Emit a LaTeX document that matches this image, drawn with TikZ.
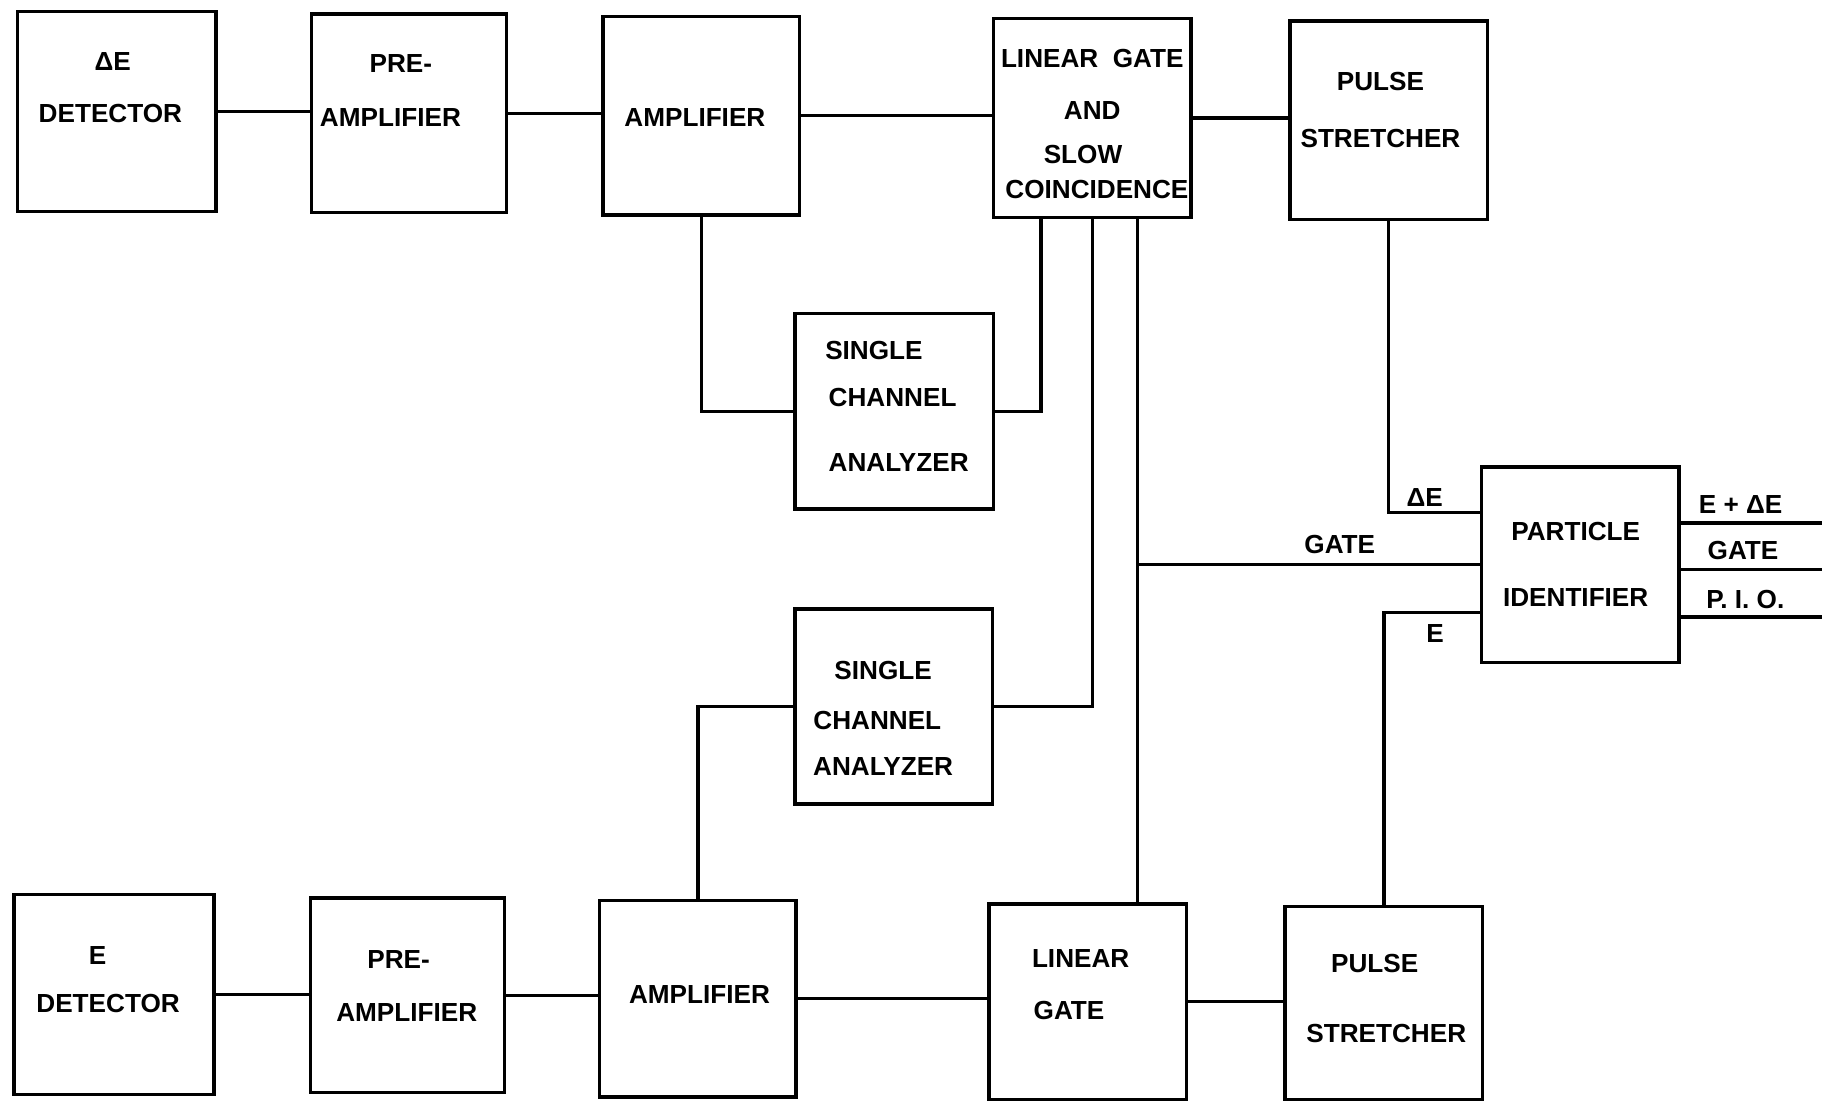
\documentclass[tikz,border=0pt]{standalone}
\usepackage{fontspec}
\setmainfont{Liberation Sans}
\usetikzlibrary{calc}
\begin{document}
\begin{tikzpicture}[x=1pt,y=-1pt,
  box/.style={draw, line width=3pt, inner sep=0pt, outer sep=0pt},
  wire/.style={line width=3pt, line cap=rect},
  lbl/.style={inner sep=0pt, font=\fontsize{22.5}{27}\selectfont\bfseries}]
\useasboundingbox[fill=white] (0,0) rectangle (1568,948);
% boxes (top row)
\node[box, minimum width=171pt, minimum height=172pt] (dE)  at (100.5,96) {};
\node[box, minimum width=168pt, minimum height=171pt] (pa1) at (352,97.5) {};
\node[box, minimum width=169pt, minimum height=171pt] (am1) at (603.5,99.5) {};
\node[box, minimum width=170pt, minimum height=171pt] (lg1) at (940,101.5) {};
\node[box, minimum width=170pt, minimum height=171pt] (ps1) at (1195,103.5) {};
% middle
\node[box, minimum width=171pt, minimum height=168pt] (sca1) at (769.5,354) {};
\node[box, minimum width=170pt, minimum height=168pt] (sca2) at (769,608) {};
\node[box, minimum width=170pt, minimum height=168pt] (pi)   at (1360,486) {};
% bottom row
\node[box, minimum width=172pt, minimum height=172pt] (dE2) at (98,856) {};
\node[box, minimum width=167pt, minimum height=167pt] (pa2) at (350.5,856.5) {};
\node[box, minimum width=169pt, minimum height=169pt] (am2) at (600.5,859.5) {};
\node[box, minimum width=170pt, minimum height=168pt] (lg2) at (936,862) {};
\node[box, minimum width=170pt, minimum height=166pt] (ps2) at (1191,863) {};

% texts
\node[lbl] (t1) at (97,53) {ΔE};
\node[lbl] (t2) at (95,98) {DETECTOR};
\node[lbl] (t3) at (345,55) {PRE-};
\node[lbl] (t4) at (336,101) {AMPLIFIER};
\node[lbl] (t5) at (598,101) {AMPLIFIER};
\node[lbl] (t6) at (940,50) {LINEAR\ \ GATE};
\node[lbl] (t7) at (940,95) {AND};
\node[lbl] (t8) at (932,133) {SLOW};
\node[lbl] (t9) at (944,163) {COINCIDENCE};
\node[lbl] (t10) at (1188,70) {PULSE};
\node[lbl] (t11) at (1188,119) {STRETCHER};
\node[lbl, anchor=west] (t12) at (710,302) {SINGLE};
\node[lbl, anchor=west] (t13) at (713,342) {CHANNEL};
\node[lbl, anchor=west] (t14) at (713,398) {ANALYZER};
\node[lbl] (t15) at (1356,457) {PARTICLE};
\node[lbl] (t16) at (1356,514) {IDENTIFIER};
\node[lbl] (t17) at (760,577) {SINGLE};
\node[lbl] (t18) at (755,620) {CHANNEL};
\node[lbl] (t19) at (760,660) {ANALYZER};
\node[lbl] (t20) at (84,822) {E};
\node[lbl] (t21) at (93,864) {DETECTOR};
\node[lbl] (t22) at (343,826) {PRE-};
\node[lbl] (t23) at (350,871) {AMPLIFIER};
\node[lbl] (t24) at (602,856) {AMPLIFIER};
\node[lbl] (t25) at (930,825) {LINEAR};
\node[lbl] (t26) at (920,870) {GATE};
\node[lbl] (t27) at (1183,829) {PULSE};
\node[lbl] (t28) at (1193,889) {STRETCHER};
% connector labels
\node[lbl] (l1) at (1226,428) {ΔE};
\node[lbl] (l2) at (1153,469) {GATE};
\node[lbl] (l3) at (1235,545) {E};
\node[lbl] (l4) at (1498,434) {E + ΔE};
\node[lbl] (l5) at (1500,474) {GATE};
\node[lbl] (l6) at (1502,516) {P. I. O.};

% helper coordinates
\coordinate (lgA) at ($(lg1.south west)!0.241!(lg1.south east)$);
\coordinate (lgC) at ($(lg1.south west)!0.729!(lg1.south east)$);
\coordinate (piA) at ($(pi.north west)!0.232!(pi.south west)$);
\coordinate (piE) at ($(pi.north west)!0.744!(pi.south west)$);
\coordinate (o1) at (1568,450);
\coordinate (o2) at (1568,490);
\coordinate (o3) at (1568,531);

% connectors top row
\draw[wire] (dE.east) -- (dE.east -| pa1.west);
\draw[wire] (pa1.east) -- (pa1.east -| am1.west);
\draw[wire] (am1.east) -- (am1.east -| lg1.west);
\draw[wire] (lg1.east) -- (lg1.east -| ps1.west);
% to/from SCAs
\draw[wire] (am1.south) |- (sca1.west);
\draw[wire] (sca1.east) -| (lgA);
\draw[wire] (lg1.south) |- (sca2.east);
\draw[wire] (am2.north) |- (sca2.west);
\draw[wire] (lgC) -- (lgC |- lg2.north);
% particle identifier
\draw[wire] (lgC |- pi.west) -- (pi.west);
\draw[wire] (ps1.south) |- (piA);
\draw[wire] (ps2.north) |- (piE);
\draw[wire] (o1 -| pi.east) -- (o1);
\draw[wire] (o2 -| pi.east) -- (o2);
\draw[wire] (o3 -| pi.east) -- (o3);
% connectors bottom row
\draw[wire] (dE2.east) -- (dE2.east -| pa2.west);
\draw[wire] (pa2.east) -- (pa2.east -| am2.west);
\draw[wire] (am2.east) -- (am2.east -| lg2.west);
\draw[wire] (lg2.east) -- (lg2.east -| ps2.west);
\end{tikzpicture}
\end{document}
